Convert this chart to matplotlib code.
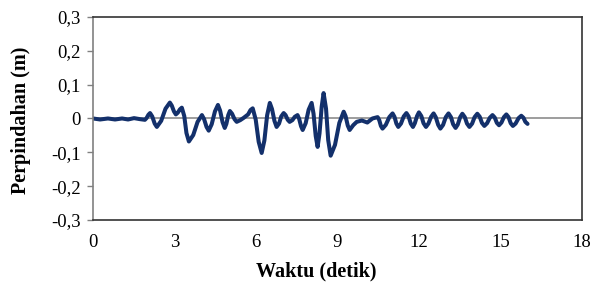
import matplotlib.pyplot as plt
from matplotlib.ticker import FuncFormatter

# waktu (detik) dan perpindahan (m)
waktu = [0.00, 0.26, 0.55, 0.81, 1.07, 1.29, 1.51, 1.73, 1.91,
         1.97, 2.04, 2.10, 2.18, 2.27, 2.35, 2.51, 2.67, 2.83, 2.90, 2.98,
         3.05, 3.12, 3.20, 3.27, 3.36, 3.44, 3.53, 3.69, 3.85, 4.01,
         4.09, 4.18, 4.26, 4.37, 4.49, 4.60, 4.68, 4.77, 4.85, 4.91, 4.98,
         5.04, 5.12, 5.21, 5.29, 5.42, 5.55, 5.71, 5.80, 5.88, 5.99, 6.10,
         6.21, 6.31, 6.41, 6.51, 6.59, 6.68, 6.76, 6.85, 6.93, 7.02, 7.09,
         7.17, 7.24, 7.34, 7.43, 7.53, 7.59, 7.66, 7.72, 7.83, 7.94, 8.05,
         8.12, 8.20, 8.27, 8.34, 8.42, 8.49, 8.58, 8.66, 8.75, 8.91, 9.07,
         9.23, 9.30, 9.38, 9.45, 9.58, 9.71, 9.90, 10.10, 10.29, 10.48,
         10.54, 10.60, 10.66, 10.78, 10.91, 11.03, 11.10, 11.17, 11.24,
         11.34, 11.44, 11.54, 11.62, 11.70, 11.78, 11.85, 11.93, 12.00,
         12.09, 12.17, 12.26, 12.35, 12.45, 12.54, 12.62, 12.71, 12.79,
         12.89, 12.99, 13.09, 13.18, 13.26, 13.35, 13.43, 13.52, 13.60,
         13.69, 13.77, 13.86, 13.96, 14.05, 14.15, 14.24, 14.32, 14.41,
         14.51, 14.61, 14.71, 14.79, 14.87, 14.95, 15.04, 15.13, 15.22,
         15.30, 15.38, 15.46, 15.56, 15.67, 15.77, 15.85, 15.92, 16.00]
perpindahan = [0.000, -0.003, 0.000, -0.003, 0.000, -0.003, 0.001, -0.002, -0.004,
               0.001, 0.011, 0.016, 0.006, -0.015, -0.025, -0.007, 0.029, 0.047, 0.038, 0.021,
               0.012, 0.017, 0.027, 0.032, 0.007, -0.043, -0.068, -0.049, -0.010, 0.010,
               -0.002, -0.025, -0.036, -0.017, 0.021, 0.040, 0.023, -0.011, -0.028, -0.016, 0.010,
               0.022, 0.014, -0.002, -0.010, -0.005, 0.002, 0.012, 0.025, 0.030, -0.003, -0.069,
               -0.102, -0.065, 0.009, 0.046, 0.028, -0.007, -0.025, -0.015, 0.006, 0.016, 0.010,
               -0.004, -0.010, -0.005, 0.005, 0.010, -0.001, -0.023, -0.034, -0.014, 0.026, 0.046,
               0.014, -0.052, -0.084, -0.044, 0.035, 0.075, 0.029, -0.064, -0.110, -0.078, -0.013,
               0.020, 0.007, -0.021, -0.034, -0.020, -0.010, -0.006, -0.012, 0.000, 0.004,
               -0.005, -0.022, -0.030, -0.019, 0.004, 0.015, 0.005, -0.015, -0.025,
               -0.015, 0.006, 0.016, 0.006, -0.015, -0.025, -0.014, 0.007, 0.018,
               0.007, -0.014, -0.025, -0.015, 0.005, 0.015, 0.004, -0.019, -0.030,
               -0.019, 0.004, 0.015, 0.004, -0.017, -0.028, -0.018, 0.004, 0.014,
               0.004, -0.015, -0.025, -0.015, 0.004, 0.014, 0.005, -0.013, -0.022,
               -0.014, 0.002, 0.010, 0.003, -0.013, -0.020, -0.012, 0.004, 0.012,
               0.004, -0.014, -0.022, -0.015, 0.001, 0.008, 0.002, -0.010, -0.016]

y_ticks = [-0.3, -0.2, -0.1, 0, 0.1, 0.2, 0.3]
x_ticks = [0, 3, 6, 9, 12, 15, 18]

plt.rcParams['font.family'] = ['Liberation Serif', 'DejaVu Serif']

fig = plt.figure(figsize=(6.08, 3.03), dpi=100)
ax = fig.add_axes([0.153, 0.274, 0.804, 0.670])

ax.axhline(0, color='#8c8c8c', lw=1.2, zorder=1)
ax.plot(waktu, perpindahan, color='#13306b', lw=2.9,
        solid_joinstyle='round', solid_capstyle='round', zorder=2)

ax.set_xlim(0, 18)
ax.set_ylim(-0.3, 0.3)
ax.set_xticks(x_ticks)
ax.set_yticks(y_ticks)


def koma(v, pos):
    if abs(v) < 1e-9:
        return '0'
    return f'{v:.1f}'.replace('.', ',')


ax.yaxis.set_major_formatter(FuncFormatter(koma))
ax.tick_params(axis='y', direction='out', length=4, width=1, color='#808080',
               labelsize=13.5, pad=5)
ax.tick_params(axis='x', length=0, labelsize=13.5, pad=10)

for s in ['top', 'right', 'bottom']:
    ax.spines[s].set_color('#333333')
    ax.spines[s].set_linewidth(1.2)
ax.spines['left'].set_color('#808080')
ax.spines['left'].set_linewidth(1.2)

ax.set_xlabel('Waktu (detik)', fontsize=14.5, fontweight='bold')
ax.xaxis.set_label_coords(0.456, -0.205)
ax.set_ylabel('Perpindahan (m)', fontsize=14.5, fontweight='bold')
ax.yaxis.set_label_coords(-0.126, 0.49)

fig.savefig('out.png', dpi=100)
